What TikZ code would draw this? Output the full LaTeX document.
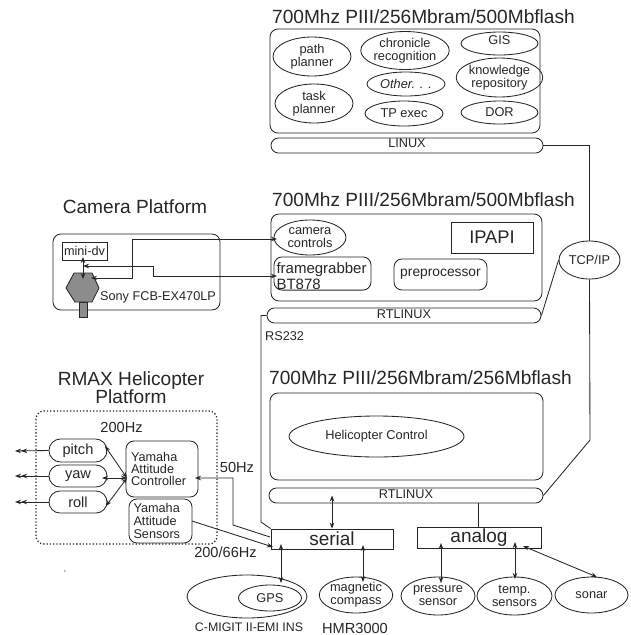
\documentclass[tikz,border=0pt]{standalone}
\usepackage{fontspec}
\setmainfont{Liberation Sans}
\usepackage{tikz}
\usetikzlibrary{shapes.geometric,shapes.misc,arrows.meta}

\newcommand{\fs}[1]{\fontsize{#1}{#1}\selectfont}

\tikzset{
   line/.style={draw=black!85, line width=0.85pt},
   oval/.style={ellipse, line, inner sep=0pt, align=center, font=\fs{12.8}},
   pill/.style={rounded rectangle, line, inner sep=0pt, font=\fs{12.7}},
   boxr/.style={rectangle, rounded corners=8pt, line, inner sep=0pt},
   boxs/.style={rectangle, line, inner sep=0pt},
   stext/.style={inner sep=0pt, text=black!85, font=\fs{12.7}},
   mtext/.style={inner sep=0pt, text=black!85, font=\fs{14.6}},
   ltext/.style={inner sep=0pt, text=black!85, font=\fs{19.1}},
   dbl/.style={line, <->},
   one/.style={line, ->},
   >={Stealth[length=6pt,width=4.5pt]}
}

\begin{document}
\begin{tikzpicture}[x=1pt,y=-1pt,every node/.append style={text=black!85}]

   \useasboundingbox (0,0) rectangle (631,635);

   % top computer
   \node[ltext, anchor=west] (titlea) at (272,17) {700Mhz PIII/256Mbram/500Mbflash};
   \node[boxr, minimum width=270pt, minimum height=104pt] (boxa) at (405,81) {};
   \node[oval, minimum width=78pt, minimum height=39pt] (path) at (312,56.5) {path\\planner};
   \node[oval, minimum width=78pt, minimum height=38pt] (chron) at (405,50.5) {chronicle\\recognition};
   \node[oval, minimum width=78pt, minimum height=24pt] (other) at (406,84) {\itshape Other. . .};
   \node[oval, minimum width=78pt, minimum height=39pt] (task) at (314,103.5) {task\\planner};
   \node[oval, minimum width=78pt, minimum height=25pt] (tpexec) at (404,113.5) {TP exec};
   \node[oval, minimum width=77pt, minimum height=23pt, text depth=7pt] (gis) at (499.5,43.5) {GIS};
   \node[oval, minimum width=77pt, minimum height=39pt] (know) at (499.5,77.5) {knowledge\\repository};
   \node[oval, minimum width=77pt, minimum height=23pt] (dor) at (499.5,112.5) {DOR};
   \node[pill, minimum width=272pt, minimum height=15pt, text depth=5pt] (linux) at (407,145.5) {LINUX};

   % middle computer
   \node[ltext, anchor=west] (titleb) at (272,200) {700Mhz PIII/256Mbram/500Mbflash};
   \node[boxr, minimum width=271pt, minimum height=87pt] (boxb) at (406.5,257.5) {};
   \node[oval, minimum width=72pt, minimum height=35pt] (camctl) at (310,237.5) {camera\\controls};
   \node[boxr, minimum width=97pt, minimum height=33pt, text width=92pt, align=left, font=\fs{15}] (grab) at (322.5,273.5) {\rule{0pt}{17pt}framegrabber\\[1pt]BT878};
   \node[boxr, minimum width=93pt, minimum height=31pt, font=\fs{13.8}] (prep) at (440.5,274.5) {preprocessor};
   \node[boxs, minimum width=82pt, minimum height=31pt, font=\fs{18.3}] (ipapi) at (492,237.5) {IPAPI};
   \node[pill, minimum width=274pt, minimum height=15pt, text depth=3pt] (rtlinuxb) at (404,315.5) {RTLINUX};
   \node[oval, minimum width=61pt, minimum height=38pt] (tcpip) at (589.5,260) {TCP/IP};
   \node[stext, anchor=west] (rsxxx) at (265,336) {RS232};

   % lower computer
   \node[ltext, anchor=west] (titlec) at (269,378) {700Mhz PIII/256Mbram/256Mbflash};
   \node[boxr, minimum width=273pt, minimum height=87pt] (boxc) at (406.5,436.5) {};
   \node[oval, minimum width=175pt, minimum height=41pt] (heli) at (376.5,436.5) {Helicopter Control};
   \node[pill, minimum width=274pt, minimum height=15pt, text depth=3pt] (rtlinuxc) at (406,495.5) {RTLINUX};
   \node[boxs, minimum width=122pt, minimum height=20pt, font=\fs{19}] (serial) at (332,539) {serial};
   \node[boxs, minimum width=124pt, minimum height=21pt, font=\fs{19}] (analog) at (479,537.5) {analog};

   % sensors
   \node[oval, minimum width=120pt, minimum height=43pt] (ins) at (247,596.5) {};
   \node[oval, minimum width=63pt, minimum height=26pt] (gps) at (270,598) {GPS};
   \node[stext, font=\fs{12.4}] (insname) at (249,627) {C-MIGIT II-EMI INS};
   \node[oval, minimum width=72pt, minimum height=36pt] (compass) at (356,595) {magnetic\\compass};
   \node[mtext] (hmr) at (355,628) {HMR3000};
   \node[oval, minimum width=74pt, minimum height=38pt] (press) at (438,596) {pressure\\sensor};
   \node[oval, minimum width=75pt, minimum height=38pt] (temp) at (514.5,596) {temp.\\sensors};
   \node[oval, minimum width=73pt, minimum height=36pt] (sonar) at (591.5,595) {sonar};

   % camera platform
   \node[ltext] (titlecam) at (135,207) {Camera Platform};
   \node[boxr, minimum width=167pt, minimum height=76pt] (boxcam) at (136.5,272) {};
   \node[boxs, minimum width=45pt, minimum height=18pt, font=\fs{12.7}] (minidv) at (84.5,251) {mini-dv};
   \filldraw[line, fill=black!45] (79,302) rectangle (87,317);
   \filldraw[line, fill=black!45] (74,273) -- (92,273) -- (99,288) -- (92,302) -- (75,302) -- (66,288) -- cycle;
   \node[stext] (sony) at (158,297) {Sony FCB-EX470LP};

   % helicopter platform
   \node[ltext, align=center] (titleheli) at (131,388) {RMAX Helicopter\\[-1pt]Platform};
   \draw[line, line width=1.3pt, dotted, rounded corners=8pt] (36,411) rectangle (217,544);
   \node[mtext] (hzb) at (121.5,427) {200Hz};
   \node[pill, minimum width=58pt, minimum height=23pt, font=\fs{14.6}] (pitch) at (78,450.5) {pitch};
   \node[pill, minimum width=58pt, minimum height=22pt, font=\fs{14.6}] (yaw) at (78,476) {yaw};
   \node[pill, minimum width=58pt, minimum height=22pt, font=\fs{14.6}] (roll) at (78,502) {roll};
   \node[boxr, minimum width=72pt, minimum height=56pt, text width=62pt, align=left, font=\fontsize{12.7}{12}\selectfont] (ctrl) at (162,469) {Yamaha\\Attitude\\Controller};
   \node[boxr, minimum width=63pt, minimum height=44pt, text width=54pt, align=left, font=\fs{12.7}] (sens) at (160.5,521) {Yamaha\\Attitude\\Sensors};
   \node[mtext] (hzc) at (237,467) {50Hz};
   \node[mtext] (hzd) at (225.5,552) {200/66Hz};
   \node[inner sep=0pt, font=\fs{8}] (mark) at (65,572) {,};

   % free ends
   \coordinate (pitchout) at (15,451);
   \coordinate (yawout) at (15,476);
   \coordinate (rollout) at (15,502);
   \coordinate (hub) at (127,478);
   \coordinate (pitchin) at (105,446);
   \coordinate (yawin) at (102,478);
   \coordinate (rollin) at (106,506);
   \coordinate (ctrlin) at (195,478);
   \coordinate (serialc) at (270,537);
   \coordinate (sensout) at (273,547);
   \coordinate (gpsup) at (281,544);
   \coordinate (gpsdown) at (281,583);
   \coordinate (compup) at (363,545);
   \coordinate (compdown) at (363,582);
   \coordinate (pressup) at (441,543);
   \coordinate (pressdown) at (441,583);
   \coordinate (tempup) at (515,542);
   \coordinate (tempdown) at (515,579);
   \coordinate (sonarup) at (523,546);
   \coordinate (sonardown) at (597,577);
   \coordinate (ctrlbus) at (478,503);
   \coordinate (dvup) at (83,257);
   \coordinate (dvdown) at (83,279);
   \coordinate (grabout) at (83,266);
   \coordinate (grabin) at (277,276);
   \coordinate (camout) at (91,278);
   \coordinate (camin) at (277,239);

   % links between computers
   \draw[line] (linux.east) -| (tcpip.north);
   \draw[line] (rtlinuxb.east) -- (tcpip.west);
   \draw[line] (tcpip.south) -- (590,440) -- (rtlinuxc.east);
   \draw[line] (rtlinuxb.west) -- (261,315.5) -- (261,522) -- (serial.north west);
   \draw[dbl] (serial.north) -- (serial.north |- rtlinuxc.center);
   \draw[line] (ctrlbus) -- (ctrlbus |- analog.north);

   % sensor arrows
   \draw[dbl] (gpsup) -- (gpsdown);
   \draw[dbl] (compup) -- (compdown);
   \draw[dbl] (pressup) -- (pressdown);
   \draw[dbl] (tempup) -- (tempdown);
   \draw[dbl] (sonarup) -- (sonardown);

   % camera arrows
   \draw[dbl] (dvup) -- (dvdown);
   \draw[dbl] (grabout) -- (153,266) -- (153,276) -- (grabin);
   \draw[dbl] (camout) -- (132,278) -- (132,239) -- (camin);

   % helicopter arrows
   \draw[line, ->>] (pitch.west) -- (pitchout);
   \draw[line, ->>] (yaw.west) -- (yawout);
   \draw[line, ->>] (roll.west) -- (rollout);
   \draw[dbl] (hub) -- (pitchin);
   \draw[dbl] (hub) -- (yawin);
   \draw[dbl] (hub) -- (rollin);
   \draw[one] (serialc) -- (233,525) -- (233,478) -- (ctrlin);
   \draw[one] (192,521) -- (sensout);

\end{tikzpicture}
\end{document}
